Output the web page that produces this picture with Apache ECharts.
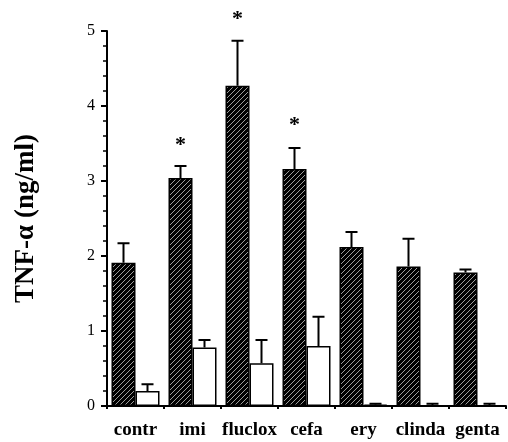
<!DOCTYPE html>
<html>
<head>
<meta charset="utf-8">
<script src="https://cdn.jsdelivr.net/npm/echarts@6/dist/echarts.min.js"></script>
<style>
  html, body { margin: 0; padding: 0; background: #fff; }
  #chart { width: 508px; height: 442px; }
</style>
</head>
<body>
<div id="chart"></div>
<script>
// 数据
let categories = ['contr', 'imi', 'fluclox', 'cefa', 'ery', 'clinda', 'genta']
let darkMean = [1.91, 3.04, 4.27, 3.16, 2.12, 1.86, 1.78]
let darkErr = [0.26, 0.16, 0.60, 0.28, 0.20, 0.37, 0.04]
let whiteMean = [0.20, 0.78, 0.57, 0.80, 0.02, 0.01, 0.01]
let whiteErr = [0.09, 0.10, 0.31, 0.39, 0.01, 0.02, 0.02]
// 星号 (显著性) 的位置
let starPos = [null, 3.53, 5.21, 3.80, null, null, null]

let serif = 'Liberation Serif'

// 斜线填充
let pat = document.createElement('canvas')
pat.width = 5
pat.height = 5
let pc = pat.getContext('2d')
pc.fillStyle = '#000'
pc.fillRect(0, 0, 5, 5)
pc.strokeStyle = '#b0b0b0'
pc.lineWidth = 0.9
pc.beginPath()
pc.moveTo(-1, 6); pc.lineTo(6, -1)
pc.moveTo(-1, 1); pc.lineTo(1, -1)
pc.moveTo(4, 6); pc.lineTo(6, 4)
pc.stroke()

// 误差线 (只画上半部分)
function errorSeries(mean, err, offset) {
    return {
        type: 'custom',
        z: 5,
        clip: false,
        data: mean.map(function (m, i) { return [i, m, m + err[i]] }),
        renderItem: function (params, api) {
            let lo = api.coord([api.value(0), api.value(1)])
            let hi = api.coord([api.value(0), api.value(2)])
            let x = lo[0] + offset
            return {
                type: 'group',
                children: [
                    { type: 'line', shape: { x1: x, y1: lo[1], x2: x, y2: hi[1] }, style: { stroke: '#000', lineWidth: 2 } },
                    { type: 'line', shape: { x1: x - 6, y1: hi[1], x2: x + 6, y2: hi[1] }, style: { stroke: '#000', lineWidth: 2 } }
                ]
            }
        }
    }
}

let myChart = echarts.init(document.getElementById('chart'))
let option = {
    animation: false,
    grid: { left: 107, right: 2, top: 31, bottom: 36 },
    xAxis: {
        type: 'category',
        data: categories,
        axisLine: { lineStyle: { color: '#000', width: 2 } },
        axisTick: { show: true, length: 3, interval: 0, lineStyle: { color: '#000', width: 2 } },
        axisLabel: { color: '#000', fontFamily: serif, fontWeight: 'bold', fontSize: 19, margin: 15, interval: 0 }
    },
    yAxis: {
        type: 'value',
        min: 0,
        max: 5,
        interval: 1,
        name: 'TNF-α (ng/ml)',
        nameLocation: 'middle',
        nameGap: 67,
        nameTextStyle: { color: '#000', fontFamily: serif, fontWeight: 'bold', fontSize: 27 },
        axisLine: { show: true, lineStyle: { color: '#000', width: 2 } },
        axisTick: { show: true, length: 6, lineStyle: { color: '#000', width: 2 } },
        minorTick: { show: true, splitNumber: 5, length: 4, lineStyle: { color: '#000', width: 1.5 } },
        splitLine: { show: false },
        axisLabel: { color: '#000', fontFamily: serif, fontSize: 16, margin: 12 }
    },
    series: [
        {
            type: 'bar',
            data: darkMean,
            barWidth: 24,
            barGap: '0%',
            itemStyle: { color: { image: pat, repeat: 'repeat' }, borderColor: '#000', borderWidth: 1.5 }
        },
        {
            type: 'bar',
            data: whiteMean,
            barWidth: 24,
            itemStyle: { color: '#fff', borderColor: '#000', borderWidth: 1.5 }
        },
        errorSeries(darkMean, darkErr, -12),
        errorSeries(whiteMean, whiteErr, 12),
        {
            type: 'custom',
            z: 6,
            clip: false,
            data: starPos.map(function (s, i) { return s == null ? null : [i, s] }).filter(function (d) { return d }),
            renderItem: function (params, api) {
                let p = api.coord([api.value(0), api.value(1)])
                return {
                    type: 'text',
                    style: {
                        x: p[0] - 12, y: p[1] + 4, text: '*', textAlign: 'center', textVerticalAlign: 'middle',
                        font: 'bold 22px "Liberation Serif"', fill: '#000'
                    }
                }
            }
        }
    ]
}
myChart.setOption(option)
</script>
</body>
</html>
